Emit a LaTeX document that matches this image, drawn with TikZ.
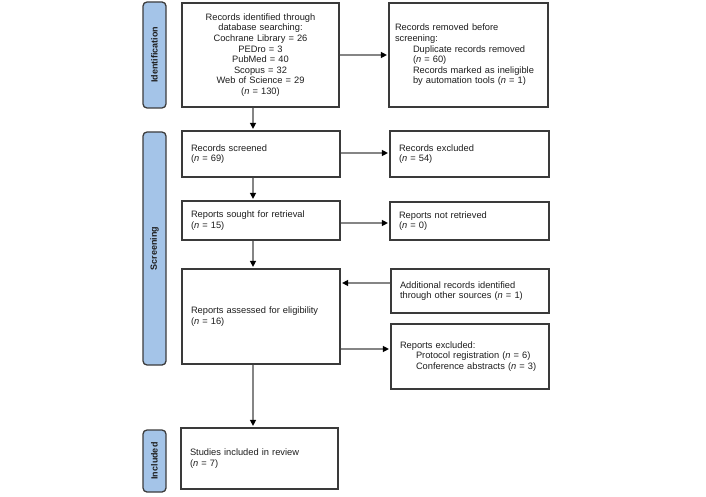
\documentclass[tikz,border=0pt]{standalone}
\usepackage{fontspec}
\setmainfont{Liberation Sans}
\usetikzlibrary{arrows.meta}
\definecolor{barfill}{HTML}{A4C4E8}
\definecolor{barline}{HTML}{3C3C3C}
\definecolor{boxline}{HTML}{3A3A3A}
\definecolor{arrowline}{HTML}{858585}
\definecolor{txt}{HTML}{1E1E1E}
\tikzset{
  txtfont/.style={font=\fontsize{9.3}{10.6}\selectfont, text=txt},
  flowbox/.style={draw=boxline, line width=1.2pt, fill=white, rectangle, inner sep=0pt, txtfont},
  leftbox/.style={flowbox, align=left, inner xsep=9pt, text width=#1},
  centerbox/.style={flowbox, align=center, text width=#1},
  phasebar/.style={draw=barline, fill=barfill, line width=1.3pt, rounded corners=4pt, rotate=90,
    inner sep=0pt, font=\bfseries\fontsize{9}{10}\selectfont, text=txt},
  flowarrow/.style={draw=arrowline, line width=1.3pt, -{Triangle[length=6pt,width=6pt,color=black]}, shorten >=1.5pt},
}
\begin{document}
\begin{tikzpicture}[x=1pt,y=-1pt]
\useasboundingbox (0,0) rectangle (706,497);
% phase bars
\node[phasebar, minimum width=106pt, minimum height=23pt] (idbar) at (154.5,55) {Identification};
\node[phasebar, minimum width=233pt, minimum height=23pt] (scrbar) at (154.5,248.5) {Screening};
\node[phasebar, minimum width=62pt, minimum height=23pt] (incbar) at (154.5,461) {Included};
% left column
\node[centerbox=150pt, minimum width=157pt, minimum height=104pt] (b1) at (260.5,55)
  {Records identified through\\database searching:\\Cochrane Library = 26\\PEDro = 3\\PubMed = 40\\Scopus = 32\\Web of Science = 29\\(\textit{n} = 130)};
\node[leftbox=140pt, minimum height=46pt] (b2) at (261,154)
  {Records screened\\(\textit{n} = 69)};
\node[leftbox=140pt, minimum height=39pt] (b3) at (261,220.5)
  {Reports sought for retrieval\\(\textit{n} = 15)};
\node[leftbox=140pt, minimum height=95pt] (b4) at (261,316.5)
  {Reports assessed for eligibility\\(\textit{n} = 16)};
\node[leftbox=139pt, minimum height=61pt] (b5) at (259.5,458.5)
  {Studies included in review\\(\textit{n} = 7)};
% right column
\node[flowbox, align=left, inner xsep=6pt, text width=147pt, minimum height=104pt] (r1) at (468.5,55)
  {Records removed before\\screening:\\\hspace*{18pt}Duplicate records removed\\\hspace*{18pt}(\textit{n} = 60)\\\hspace*{18pt}Records marked as ineligible\\\hspace*{18pt}by automation tools (\textit{n} = 1)};
\node[leftbox=141pt, minimum height=46pt] (r2) at (469.5,154)
  {Records excluded\\(\textit{n} = 54)};
\node[leftbox=141pt, minimum height=38pt] (r3) at (469.5,221)
  {Reports not retrieved\\(\textit{n} = 0)};
\node[leftbox=140pt, minimum height=44pt] (r4a) at (470,291)
  {Additional records identified\\through other sources (\textit{n} = 1)};
\node[leftbox=140pt, minimum height=65pt] (r4b) at (470,356.5)
  {Reports excluded:\\\hspace*{16pt}Protocol registration (\textit{n} = 6)\\\hspace*{16pt}Conference abstracts (\textit{n} = 3)};
% helper coordinates
\coordinate (dx) at (253,0);
\coordinate (ya) at (0,55);
\coordinate (yb) at (0,153);
\coordinate (yc) at (0,223);
\coordinate (yd) at (0,283);
\coordinate (ye) at (0,349);
% arrows
\draw[flowarrow] (b1.east |- ya) -- (r1.west |- ya);
\draw[flowarrow] (b1.south -| dx) -- (b2.north -| dx);
\draw[flowarrow] (b2.east |- yb) -- (r2.west |- yb);
\draw[flowarrow] (b2.south -| dx) -- (b3.north -| dx);
\draw[flowarrow] (b3.east |- yc) -- (r3.west |- yc);
\draw[flowarrow] (b3.south -| dx) -- (b4.north -| dx);
\draw[flowarrow] (r4a.west |- yd) -- (b4.east |- yd);
\draw[flowarrow] (b4.east |- ye) -- (r4b.west |- ye);
\draw[flowarrow] (b4.south -| dx) -- (b5.north -| dx);
\end{tikzpicture}
\end{document}
